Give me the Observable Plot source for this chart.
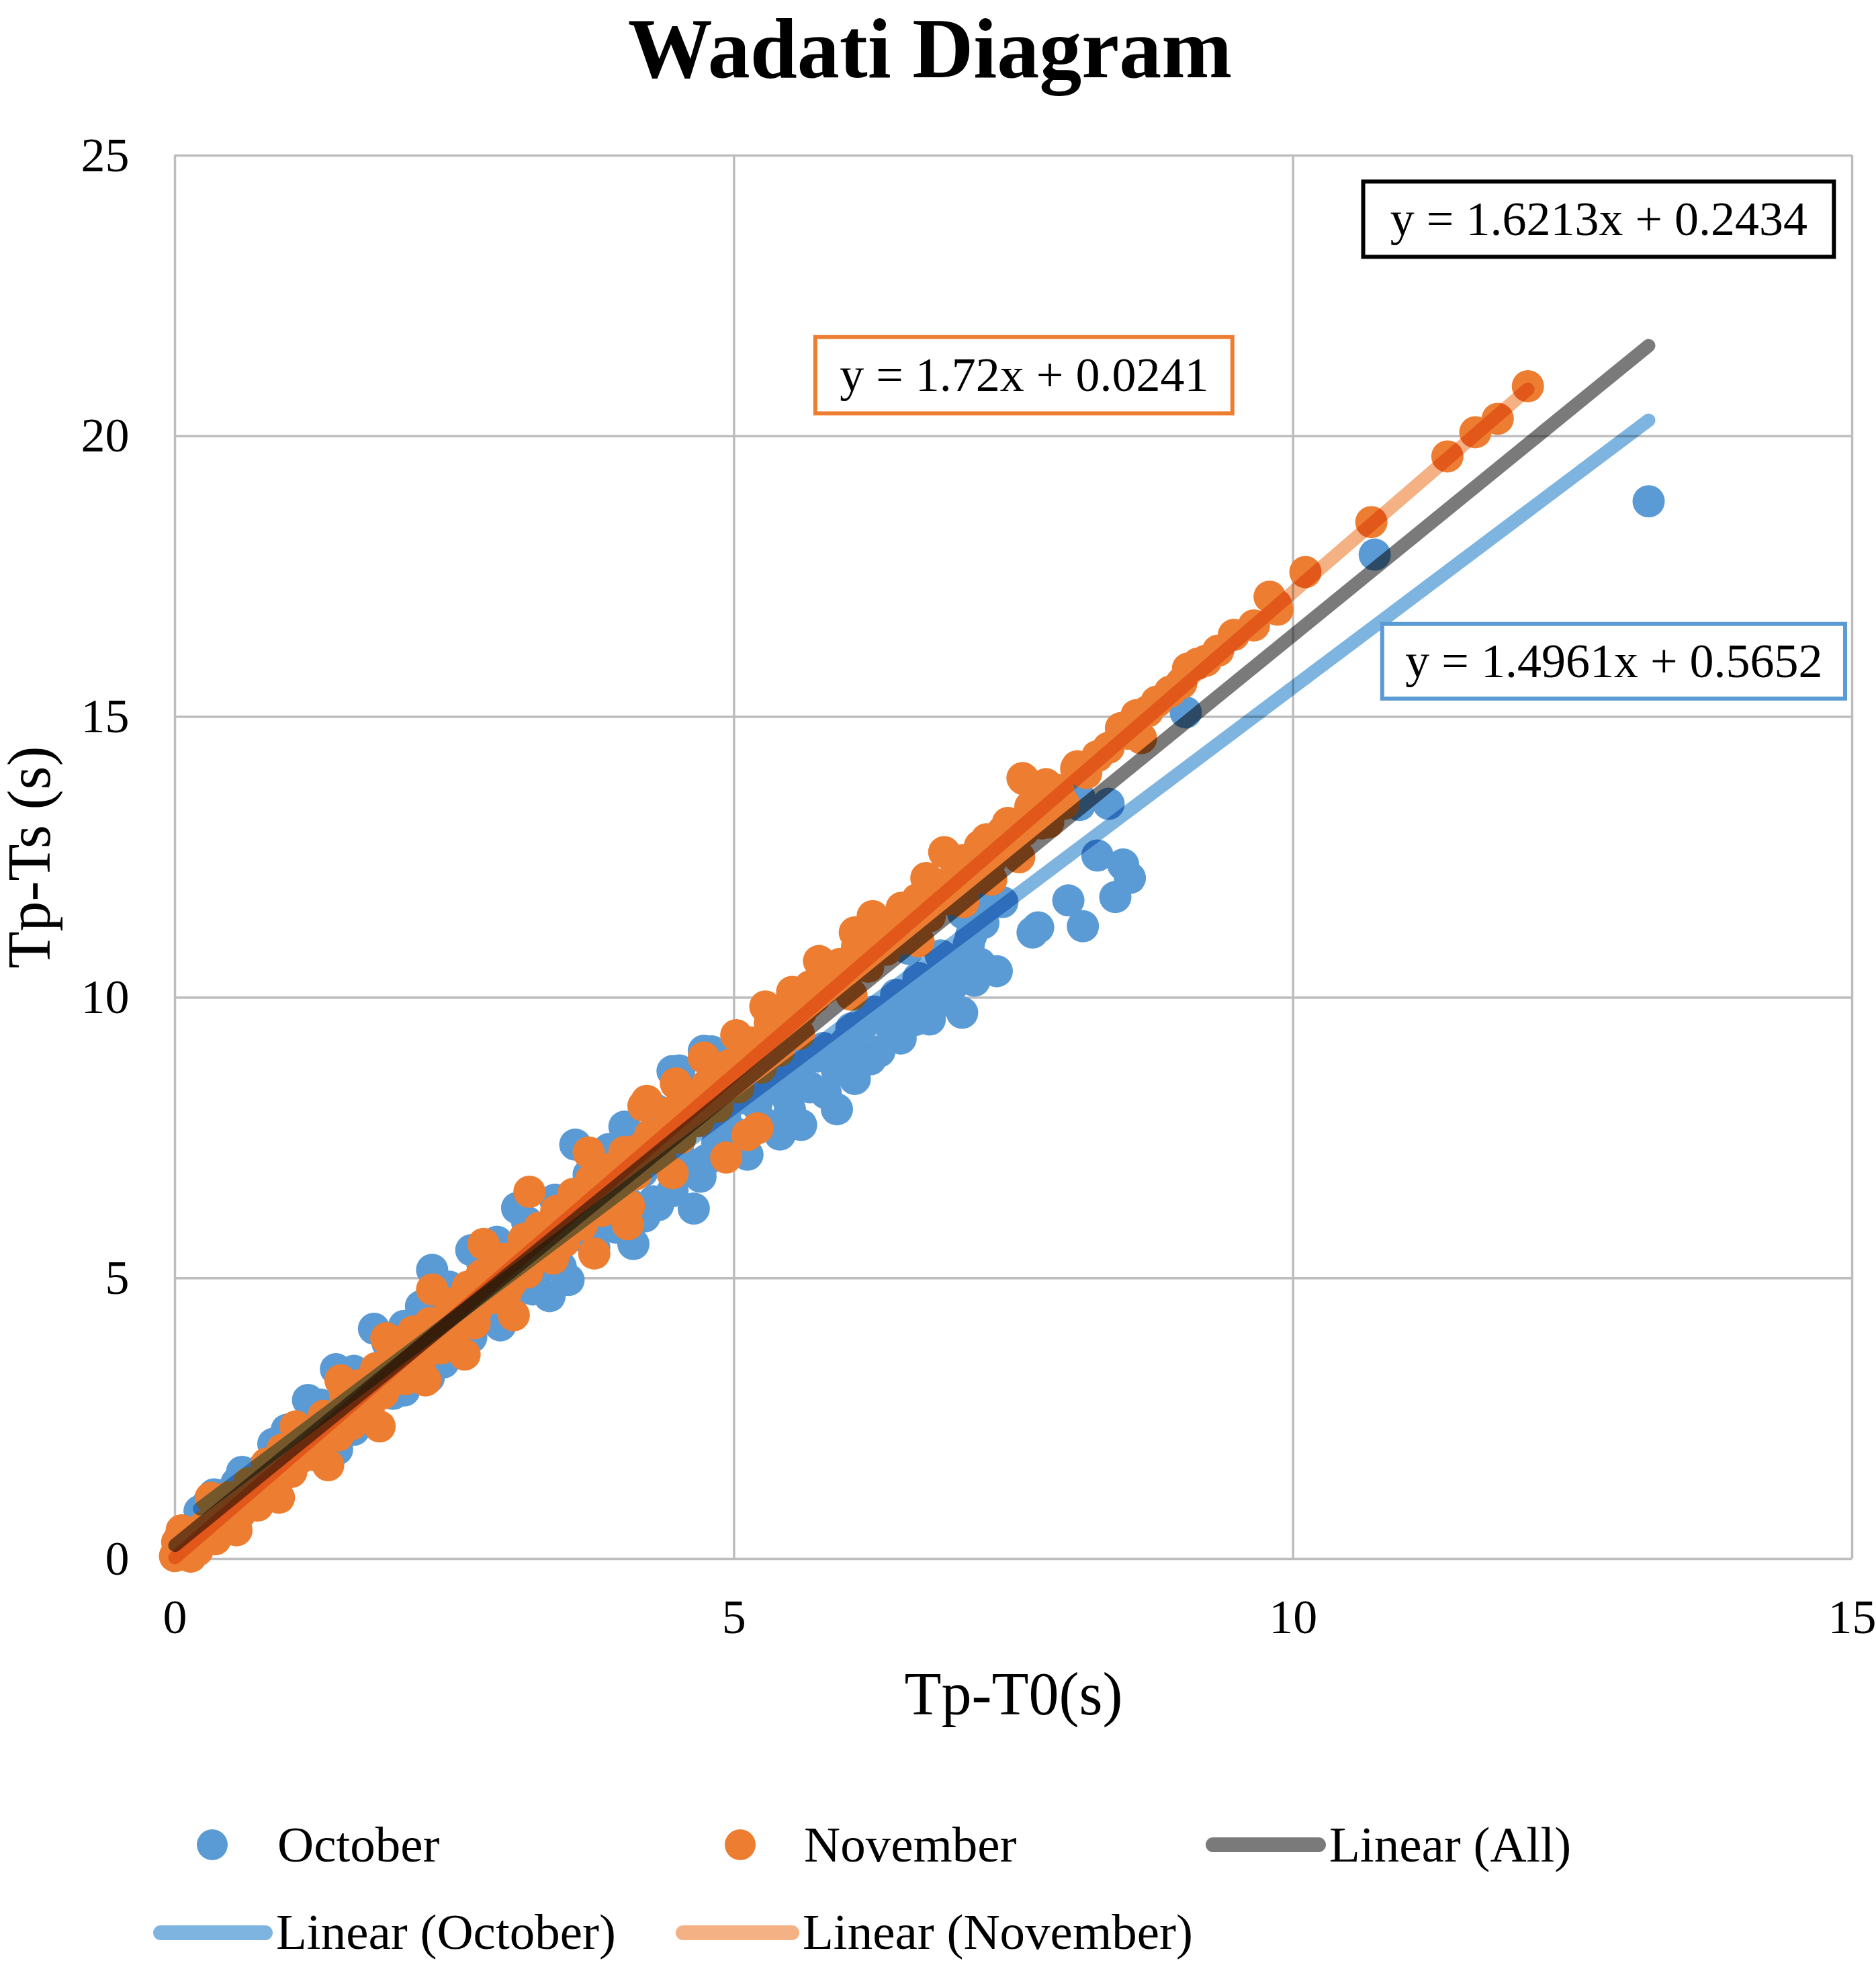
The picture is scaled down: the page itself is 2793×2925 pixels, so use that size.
<!DOCTYPE html>
<html>
<head>
<meta charset="utf-8">
<script src="https://cdn.jsdelivr.net/npm/d3@7"></script>
<script src="https://cdn.jsdelivr.net/npm/@observablehq/plot@0.6"></script>
<style>
  html, body { margin: 0; padding: 0; background: #fff; }
  body { width: 2793px; height: 2925px; overflow: hidden; position: relative; font-family: "Liberation Serif", "Times New Roman", serif; color: #000; }
  #title { position: absolute; left: -12px; top: 1px; width: 2793px; text-align: center; font-weight: bold; font-size: 126px; line-height: normal; white-space: nowrap; }
  #chart { position: absolute; left: 0; top: 140px; }
  #chart svg { max-width: none; background: transparent; }
  .lg-text { position: absolute; font-size: 75px; line-height: 1; white-space: nowrap; }
  .lg-mark { position: absolute; }
</style>
</head>
<body>
<div id="title">Wadati Diagram</div>
<div id="chart"></div>
<div id="legend"></div>
<script>
// ---------- data ----------
const xTicks = [0, 5, 10, 15];
const yTicks = [0, 5, 10, 15, 20, 25];
const xLabel = "Tp-T0(s)";
const yLabel = "Tp-Ts (s)";
const chartTitle = "Wadati Diagram";

// October (Tp-T0, Tp-Ts)
const october = [
  [0.22,0.85],[0.30,1.00],[0.35,1.15],[0.42,1.05],[0.50,1.20],[0.55,1.35],[0.60,1.55],[0.62,1.25],[0.70,1.45],
  [0.78,1.60],[0.85,1.50],[0.88,2.05],[0.92,1.85],[0.98,1.70],[1.00,2.30],[1.05,2.05],[1.12,1.90],[1.19,2.83],
  [1.25,2.30],[1.30,2.75],[1.32,2.15],[1.40,2.55],[1.44,3.38],[1.45,1.95],[1.50,2.70],[1.55,2.45],[1.60,2.30],
  [1.60,3.35],[1.66,3.00],[1.72,2.85],[1.75,2.50],[1.78,4.10],[1.82,3.20],[1.88,3.05],[1.90,3.85],[1.95,2.94],
  [2.00,3.55],[2.05,3.00],[2.05,4.15],[2.06,3.35],[2.12,3.75],[2.18,3.50],[2.20,4.50],[2.27,3.23],[2.30,5.15],
  [2.35,4.05],[2.40,3.50],[2.42,3.80],[2.45,4.85],[2.50,4.30],[2.55,4.00],[2.60,4.55],[2.65,3.95],[2.65,5.50],
  [2.72,4.35],[2.75,5.25],[2.80,4.80],[2.85,4.55],[2.88,5.65],[2.91,4.16],[2.98,5.10],[3.00,4.45],[3.06,6.25],
  [3.10,4.95],[3.15,6.00],[3.18,5.40],[3.20,4.80],[3.25,5.15],[3.30,5.75],[3.35,4.68],[3.40,6.40],[3.42,5.60],
  [3.45,5.20],[3.52,4.97],[3.58,7.38],[3.62,5.95],[3.70,5.70],[3.70,6.85],[3.75,5.55],[3.78,6.30],[3.85,6.05],
  [3.88,7.30],[3.92,6.60],[3.95,5.90],[4.02,7.70],[4.05,6.35],[4.10,5.61],[4.15,7.50],[4.18,6.90],[4.20,6.10],
  [4.28,6.37],[4.30,8.00],[4.32,6.30],[4.40,7.20],[4.45,6.55],[4.45,8.69],[4.51,7.44],[4.51,8.70],[4.58,7.05],
  [4.60,8.35],[4.64,6.24],[4.70,6.81],[4.73,9.05],[4.75,7.10],[4.80,9.04],[4.85,7.40],[4.92,7.85],[5.00,7.60],
  [5.05,8.20],[5.10,8.25],[5.12,7.20],[5.20,8.10],[5.25,8.40],[5.28,7.75],[5.35,8.45],[5.41,7.56],[5.45,8.55],
  [5.48,8.20],[5.50,8.00],[5.55,8.60],[5.60,7.73],[5.65,8.95],[5.68,8.40],[5.75,8.95],[5.80,9.10],[5.82,8.30],
  [5.92,8.01],[5.92,8.70],[6.00,9.20],[6.05,9.45],[6.08,8.55],[6.10,9.00],[6.15,9.50],[6.22,8.90],[6.25,9.75],
  [6.30,9.04],[6.35,9.70],[6.42,9.35],[6.45,10.05],[6.49,9.27],[6.55,10.00],[6.56,10.87],[6.62,9.60],[6.65,9.80],
  [6.65,10.35],[6.70,10.30],[6.75,9.61],[6.82,9.90],[6.85,10.75],[6.88,10.55],[6.95,10.20],[7.00,10.53],[7.04,9.73],
  [7.05,11.50],[7.08,10.80],[7.10,10.95],[7.12,11.10],[7.15,10.30],[7.19,11.85],[7.20,10.60],[7.23,11.33],[7.35,10.47],
  [7.40,11.70],[7.67,11.16],[7.72,11.25],[7.99,11.73],[8.09,13.43],[8.09,13.56],[8.12,11.27],[8.25,12.53],[8.35,13.45],
  [8.41,11.79],[8.48,12.37],[8.54,12.13],[9.04,15.08],[10.73,17.89],[13.18,18.84]
];

// November (Tp-T0, Tp-Ts)
const november = [
  [0.00,0.05],[0.02,0.30],[0.05,0.15],[0.06,0.51],[0.08,0.45],[0.10,0.25],[0.14,0.04],[0.18,0.40],[0.20,0.15],
  [0.25,0.55],[0.28,0.60],[0.32,1.09],[0.36,0.35],[0.38,0.70],[0.45,0.85],[0.48,1.10],[0.55,0.51],[0.58,0.80],
  [0.62,1.10],[0.66,1.35],[0.70,1.30],[0.74,0.95],[0.78,1.20],[0.82,1.70],[0.85,1.55],[0.90,1.35],[0.93,1.09],
  [0.96,1.95],[1.00,1.75],[1.04,1.55],[1.08,2.36],[1.12,1.80],[1.15,2.25],[1.20,2.10],[1.24,1.85],[1.28,2.00],
  [1.33,2.55],[1.37,1.67],[1.42,2.50],[1.46,2.20],[1.48,3.18],[1.52,2.95],[1.55,2.60],[1.58,2.40],[1.62,2.85],
  [1.66,3.10],[1.70,2.70],[1.74,2.75],[1.76,3.10],[1.80,3.40],[1.83,2.36],[1.86,2.95],[1.89,3.93],[1.95,3.30],
  [1.98,3.60],[2.02,3.50],[2.06,3.20],[2.10,3.40],[2.13,4.05],[2.16,3.85],[2.20,3.55],[2.24,3.18],[2.28,4.20],
  [2.30,4.80],[2.35,4.00],[2.38,3.75],[2.42,4.25],[2.46,4.55],[2.50,4.10],[2.54,4.15],[2.59,3.64],[2.62,4.85],
  [2.65,4.60],[2.68,4.20],[2.70,4.45],[2.74,5.05],[2.76,5.61],[2.82,4.85],[2.86,4.65],[2.90,5.00],[2.94,5.35],
  [2.96,4.75],[3.00,4.90],[3.03,4.34],[3.08,5.35],[3.12,5.70],[3.15,5.10],[3.17,6.54],[3.22,5.50],[3.26,5.90],
  [3.30,5.70],[3.34,5.45],[3.38,5.35],[3.41,6.20],[3.45,6.05],[3.48,5.65],[3.52,5.90],[3.56,6.50],[3.60,6.30],
  [3.64,5.95],[3.70,7.24],[3.72,6.75],[3.75,5.44],[3.80,6.60],[3.82,6.20],[3.88,6.45],[3.90,6.95],[3.95,6.90],
  [3.98,6.55],[4.02,7.25],[4.05,5.96],[4.06,6.29],[4.08,7.00],[4.12,6.85],[4.15,7.30],[4.19,8.07],[4.22,8.16],
  [4.25,7.55],[4.30,7.15],[4.34,7.15],[4.38,7.60],[4.42,7.95],[4.45,6.87],[4.48,8.47],[4.52,7.50],[4.55,7.90],
  [4.60,8.25],[4.62,8.00],[4.68,7.80],[4.73,8.93],[4.76,8.45],[4.80,8.30],[4.85,8.05],[4.90,8.60],[4.93,7.15],
  [4.96,8.80],[5.02,9.33],[5.04,8.40],[5.10,8.95],[5.12,7.55],[5.15,9.20],[5.18,9.10],[5.21,7.67],[5.24,8.75],
  [5.28,9.84],[5.32,9.55],[5.35,9.30],[5.40,9.05],[5.45,9.55],[5.50,9.75],[5.52,10.10],[5.58,9.35],[5.60,9.75],
  [5.66,9.90],[5.68,10.20],[5.72,10.00],[5.76,10.65],[5.80,10.15],[5.85,10.30],[5.90,10.55],[5.95,10.60],[6.00,10.25],
  [6.05,10.05],[6.08,11.16],[6.10,10.90],[6.15,10.75],[6.20,10.55],[6.24,11.45],[6.28,11.20],[6.30,11.00],[6.36,10.85],
  [6.40,11.35],[6.45,11.40],[6.50,11.60],[6.55,11.05],[6.60,11.50],[6.64,11.75],[6.65,11.00],[6.72,12.13],[6.75,11.45],
  [6.80,11.90],[6.84,12.00],[6.88,12.59],[6.92,11.75],[6.95,12.10],[7.00,12.30],[7.05,11.70],[7.05,12.45],[7.10,12.05],
  [7.15,12.40],[7.20,12.70],[7.26,12.82],[7.30,12.10],[7.30,12.45],[7.35,12.75],[7.40,12.95],[7.45,13.11],[7.50,12.85],
  [7.55,12.50],[7.58,13.91],[7.59,12.97],[7.59,13.89],[7.65,13.40],[7.70,13.30],[7.75,13.10],[7.79,13.80],[7.81,13.12],
  [7.83,13.51],[7.90,13.70],[7.95,13.45],[8.06,14.08],[8.07,14.12],[8.15,14.00],[8.25,14.30],[8.35,14.45],[8.46,14.80],
  [8.52,14.70],[8.60,15.03],[8.64,14.62],[8.70,15.10],[8.78,15.27],[8.90,15.45],[9.00,15.60],[9.06,15.86],[9.15,15.95],
  [9.22,16.00],[9.33,16.18],[9.47,16.46],[9.65,16.63],[9.79,17.14],[9.85,16.99],[9.86,16.91],[10.11,17.58],[10.70,18.47],
  [11.38,19.64],[11.63,20.07],[11.83,20.31],[12.10,20.89]
];

// Linear trend lines (coefficients as printed on the chart)
const trendNames = ["All", "October", "November"];
const trendSlopes = [1.6213, 1.4961, 1.72];
const trendIntercepts = [0.2434, 0.5652, 0.0241];
const equationLabels = ["y = 1.6213x + 0.2434", "y = 1.4961x + 0.5652", "y = 1.72x + 0.0241"];

// ---------- styles ----------
const COL_OCT = "#5b9bd5", COL_NOV = "#ed7d31";
const trendColors = ["#7a7a7a", "#7db4e0", "#f4b183"];
const boxColors = ["#000000", "#5b9bd5", "#ed7d31"];
// equation box placement (data units: left, right, top, bottom)
const boxPlace = [
  [10.63, 14.84, 24.53, 23.19],
  [10.80, 14.94, 16.65, 15.32],
  [5.73, 9.46, 21.76, 20.40]
];

// ---------- build ----------
const seriesX = [
  d3.extent([...october, ...november], d => d[0]),
  d3.extent(october, d => d[0]),
  d3.extent(november, d => d[0])
];
const trendMarks = trendNames.map((name, i) => {
  const pts = seriesX[i].map(x => ({x, y: trendSlopes[i] * x + trendIntercepts[i]}));
  return Plot.line(pts, {x: "x", y: "y", stroke: trendColors[i], strokeWidth: 20,
    strokeLinecap: "round", mixBlendMode: "multiply"});
});
const boxMarks = equationLabels.flatMap((label, i) => {
  const [l, r, t, b] = boxPlace[i];
  return [
    Plot.rect([{l, r, t, b}], {x1: "l", x2: "r", y1: "b", y2: "t", fill: "white", stroke: boxColors[i], strokeWidth: 6}),
    Plot.text([{x: (l + r) / 2, y: (t + b) / 2, label}], {x: "x", y: "y", text: "label",
      fontSize: 72, fill: "black", lineAnchor: "middle", textAnchor: "middle"})
  ];
});

const chart = Plot.plot({
  width: 2793,
  height: 2480,
  marginTop: 91,
  marginBottom: 300,
  marginLeft: 260,
  marginRight: 36,
  style: {fontFamily: '"Liberation Serif", "Times New Roman", serif', color: "#000", background: "transparent", overflow: "visible"},
  x: {domain: [0, 15]},
  y: {domain: [0, 25]},
  marks: [
    Plot.gridX(xTicks, {stroke: "#bdbdbd", strokeOpacity: 1, strokeWidth: 3.5}),
    Plot.gridY(yTicks, {stroke: "#bdbdbd", strokeOpacity: 1, strokeWidth: 3.5}),
    Plot.axisX(xTicks, {tickSize: 0, tickPadding: 59, fontSize: 72, label: null, tickFormat: d => String(d)}),
    Plot.axisY(yTicks, {tickSize: 0, tickPadding: 68, fontSize: 72, label: null, tickFormat: d => String(d)}),
    Plot.dot(october, {x: d => d[0], y: d => d[1], r: 24, fill: COL_OCT, stroke: "none"}),
    Plot.dot(november, {x: d => d[0], y: d => d[1], r: 24, fill: COL_NOV, stroke: "none"}),
    ...trendMarks,
    ...boxMarks,
    Plot.text([xLabel], {frameAnchor: "bottom", dy: 203, text: d => d, fontSize: 90, lineAnchor: "middle", textAnchor: "middle", fill: "black"}),
    Plot.text([yLabel], {frameAnchor: "left", dx: -215, rotate: -90, text: d => d, fontSize: 90, lineAnchor: "middle", textAnchor: "middle", fill: "black"})
  ]
});
document.getElementById("chart").appendChild(chart);
document.getElementById("title").textContent = chartTitle;

// ---------- legend ----------
const legendItems = [
  {label: "October", kind: "dot", color: COL_OCT, mx: 316, tx: 413, row: 0},
  {label: "November", kind: "dot", color: COL_NOV, mx: 1102, tx: 1197, row: 0},
  {label: "Linear (All)", kind: "line", color: trendColors[0], mx: 1795, mw: 179, tx: 1979, row: 0},
  {label: "Linear (October)", kind: "line", color: trendColors[1], mx: 228, mw: 178, tx: 411, row: 1},
  {label: "Linear (November)", kind: "line", color: trendColors[2], mx: 1006, mw: 184, tx: 1195, row: 1}
];
const rowCenter = [2746, 2877];
const rowBaseline = [2771, 2901];
const legend = document.getElementById("legend");
legendItems.forEach(it => {
  const m = document.createElement("div");
  m.className = "lg-mark";
  if (it.kind === "dot") {
    Object.assign(m.style, {left: (it.mx - 23) + "px", top: (rowCenter[it.row] - 23) + "px", width: "46px", height: "46px", borderRadius: "50%", background: it.color});
  } else {
    Object.assign(m.style, {left: it.mx + "px", top: (rowCenter[it.row] - 11) + "px", width: it.mw + "px", height: "22px", borderRadius: "11px", background: it.color});
  }
  legend.appendChild(m);
  const t = document.createElement("div");
  t.className = "lg-text";
  t.textContent = it.label;
  t.style.left = it.tx + "px";
  t.style.top = (rowBaseline[it.row] - 63) + "px";
  legend.appendChild(t);
});
</script>
</body>
</html>
